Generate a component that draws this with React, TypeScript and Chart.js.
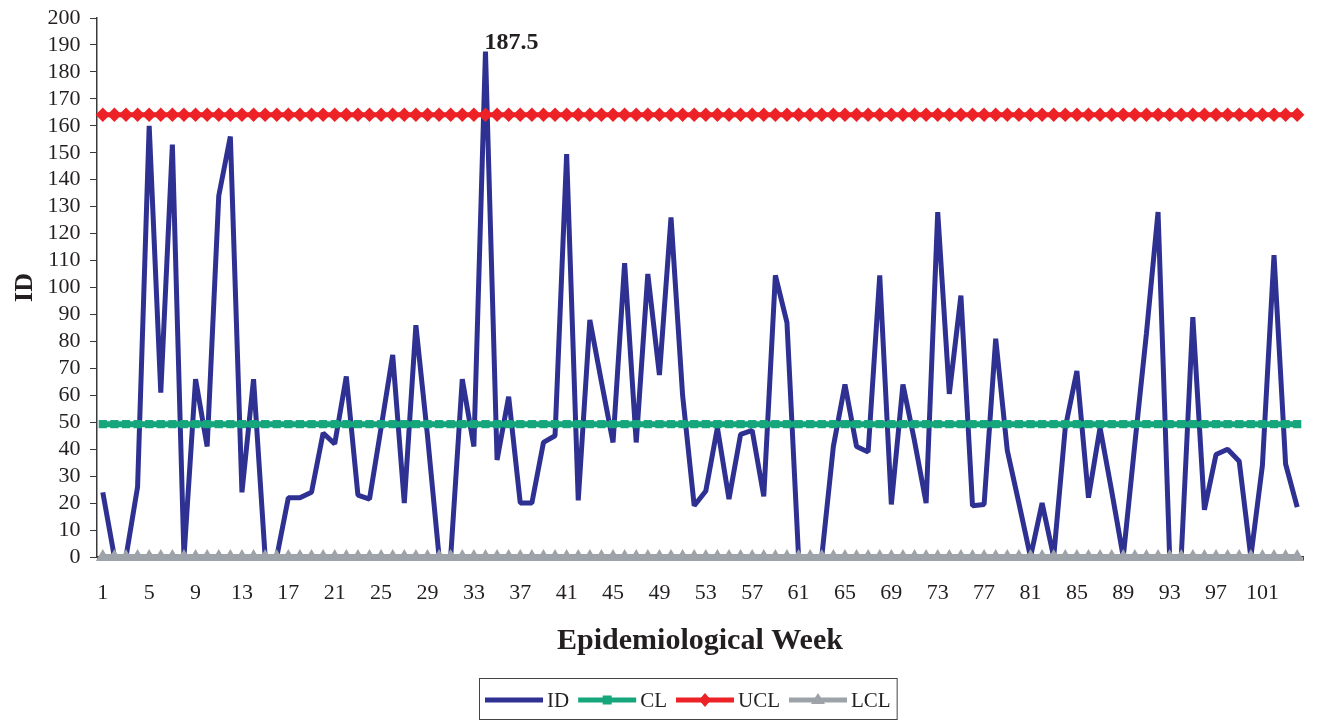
import React, { useEffect, useRef } from 'react';
import { Chart, registerables } from 'chart.js';

Chart.register(...registerables);

// ---------- data ----------
const weeks = [
  1, 2, 3, 4, 5, 6, 7, 8, 9, 10, 11, 12, 13, 14, 15, 16, 17, 18, 19, 20,
  21, 22, 23, 24, 25, 26, 27, 28, 29, 30, 31, 32, 33, 34, 35, 36, 37, 38, 39, 40,
  41, 42, 43, 44, 45, 46, 47, 48, 49, 50, 51, 52, 53, 54, 55, 56, 57, 58, 59, 60,
  61, 62, 63, 64, 65, 66, 67, 68, 69, 70, 71, 72, 73, 74, 75, 76, 77, 78, 79, 80,
  81, 82, 83, 84, 85, 86, 87, 88, 89, 90, 91, 92, 93, 94, 95, 96, 97, 98, 99, 100,
  101, 102, 103, 104,
];

const idValues = [
  24, 0, 0, 26, 160, 61, 153, 0, 66, 41,
  134, 156, 24, 66, 0, 0, 22, 22, 24, 46,
  42, 67, 23, 21.5, 48, 75, 20, 86, 45, 0,
  0, 66, 41, 187.5, 36, 59.5, 20, 20, 42.5, 45,
  149.5, 21, 88, 65, 42.5, 109, 42.5, 105, 67.5, 126,
  60, 19, 24.5, 48, 21.5, 45.5, 47, 22.5, 104.5, 87,
  0, 0, 0, 41, 64, 41, 39, 104.5, 19.5, 64,
  43, 20, 128, 60.5, 97, 19, 19.5, 81, 39.5, 20,
  0, 20, 0, 48, 69, 22, 48, 24.5, 0, 42,
  83, 128, 0, 0, 89, 17.5, 38, 40, 35.5, 0,
  34, 112, 34.5, 18.5,
];

const clLevel = 49.3;
const uclLevel = 164.1;
const lclLevel = 0;

const clValues = weeks.map(() => clLevel);
const uclValues = weeks.map(() => uclLevel);
const lclValues = weeks.map(() => lclLevel);

const xTickLabels = [1, 5, 9, 13, 17, 21, 25, 29, 33, 37, 41, 45, 49, 53, 57, 61, 65, 69, 73, 77, 81, 85, 89, 93, 97, 101];
const yMin = 0;
const yMax = 200;
const yStep = 10;
const peakLabel = '187.5';
const seriesNames = ['ID', 'CL', 'UCL', 'LCL'];

// ---------- styles ----------
const SERIF = "'Liberation Serif', 'Times New Roman', Times, serif";
const TEXT = '#231F20';
const AXIS = '#3a3a3a';
const BLUE = '#2E3192';
const GREEN = '#16A67C';
const RED = '#EC2227';
const GRAY = '#9DA3A9';

type Marker = 'none' | 'rect' | 'rectRot' | 'triangle';

function drawMarker(ctx: CanvasRenderingContext2D, kind: Marker, x: number, y: number, color: string) {
  ctx.fillStyle = color;
  ctx.beginPath();
  if (kind === 'rect') {
    ctx.rect(x - 4.5, y - 4.5, 9, 9);
  } else if (kind === 'rectRot') {
    ctx.moveTo(x - 6, y);
    ctx.lineTo(x, y - 7);
    ctx.lineTo(x + 6, y);
    ctx.lineTo(x, y + 7);
    ctx.closePath();
  } else if (kind === 'triangle') {
    ctx.moveTo(x, y - 7);
    ctx.lineTo(x + 7, y + 4);
    ctx.lineTo(x - 7, y + 4);
    ctx.closePath();
  } else {
    return;
  }
  ctx.fill();
}

const boxLegendPlugin = {
  id: 'boxLegend',
  afterDraw(chart: any) {
    const ctx: CanvasRenderingContext2D = chart.ctx;
    const markers: Marker[] = ['none', 'rect', 'rectRot', 'triangle'];
    ctx.save();
    ctx.font = `21px ${SERIF}`;
    ctx.textBaseline = 'middle';
    ctx.textAlign = 'left';
    const boxLeft = 471;
    const boxTop = 670;
    const boxH = 41;
    const cy = boxTop + 22;
    let x = boxLeft + 6;
    chart.data.datasets.forEach((ds: any, i: number) => {
      const color = ds.borderColor as string;
      ctx.strokeStyle = color;
      ctx.lineWidth = 5;
      ctx.beginPath();
      ctx.moveTo(x, cy);
      ctx.lineTo(x + 58, cy);
      ctx.stroke();
      drawMarker(ctx, markers[i], x + 29, cy, color);
      ctx.fillStyle = TEXT;
      const label = ds.label as string;
      ctx.fillText(label, x + 62, cy + 1);
      x += 62 + ctx.measureText(label).width + 9;
    });
    const boxRight = x - 9 + 6;
    ctx.strokeStyle = '#444';
    ctx.lineWidth = 1;
    ctx.strokeRect(boxLeft + 0.5, boxTop + 0.5, boxRight - boxLeft, boxH);
    ctx.restore();
  },
};

const peakLabelPlugin = {
  id: 'peakLabel',
  afterDatasetsDraw(chart: any) {
    const values = chart.data.datasets[0].data as number[];
    let idx = 0;
    values.forEach((v, i) => {
      if (v > values[idx]) idx = i;
    });
    const pt = chart.getDatasetMeta(0).data[idx];
    const ctx: CanvasRenderingContext2D = chart.ctx;
    ctx.save();
    ctx.font = `bold 24px ${SERIF}`;
    ctx.fillStyle = TEXT;
    ctx.textAlign = 'left';
    ctx.textBaseline = 'alphabetic';
    ctx.fillText(peakLabel, pt.x - 1, pt.y - 3);
    ctx.restore();
  },
};

export default function App() {
  const canvasRef = useRef<HTMLCanvasElement>(null);

  useEffect(() => {
    if (!canvasRef.current) return;
    const chart = new Chart(canvasRef.current, {
      type: 'line',
      data: {
        labels: weeks.map(String),
        datasets: [
          {
            label: seriesNames[0],
            data: idValues,
            borderColor: BLUE,
            backgroundColor: BLUE,
            borderWidth: 5,
            borderJoinStyle: 'bevel',
            pointRadius: 0,
            pointHoverRadius: 0,
            tension: 0,
            order: 1,
            clip: false,
          },
          {
            label: seriesNames[1],
            data: clValues,
            borderColor: GREEN,
            backgroundColor: GREEN,
            borderWidth: 6,
            pointStyle: 'rect',
            pointRadius: 5.8,
            pointBorderWidth: 0,
            pointBackgroundColor: GREEN,
            order: 0,
            clip: false,
          },
          {
            label: seriesNames[2],
            data: uclValues,
            borderColor: RED,
            backgroundColor: RED,
            borderWidth: 5,
            pointStyle: 'rectRot',
            pointRadius: 7.2,
            pointBorderWidth: 0,
            pointBackgroundColor: RED,
            order: 0,
            clip: false,
          },
          {
            label: seriesNames[3],
            data: lclValues,
            borderColor: GRAY,
            backgroundColor: GRAY,
            borderWidth: 6,
            pointStyle: 'triangle',
            pointRadius: 8,
            pointBorderWidth: 0,
            pointBackgroundColor: GRAY,
            order: 0,
            clip: false,
          },
        ],
      },
      options: {
        animation: false,
        responsive: true,
        maintainAspectRatio: false,
        events: [],
        layout: { padding: { top: 10, right: 0, bottom: 52, left: 0 } },
        plugins: {
          legend: { display: false },
          tooltip: { enabled: false },
        },
        scales: {
          x: {
            type: 'category',
            offset: true,
            grid: {
              offset: true,
              drawOnChartArea: false,
              drawTicks: true,
              tickLength: 4,
              color: AXIS,
              lineWidth: 1,
            },
            border: { display: true, color: AXIS, width: 1.5 },
            ticks: {
              autoSkip: false,
              maxRotation: 0,
              minRotation: 0,
              padding: 3,
              color: TEXT,
              font: { family: SERIF, size: 22, lineHeight: 2.7 },
              callback: (_v: any, index: number) => {
                const w = weeks[index];
                return xTickLabels.includes(w) ? String(w) : '';
              },
            },
            title: {
              display: true,
              text: 'Epidemiological Week',
              color: TEXT,
              font: { family: SERIF, size: 30, weight: 'bold', lineHeight: 1 },
              padding: { top: 0, bottom: 12 },
            },
            afterFit: (scale: any) => {
              scale.height = 111;
            },
          },
          y: {
            min: yMin,
            max: yMax,
            grid: {
              drawOnChartArea: false,
              drawTicks: true,
              tickLength: 7,
              color: AXIS,
              lineWidth: 1,
            },
            border: { display: true, color: AXIS, width: 1.5 },
            ticks: {
              stepSize: yStep,
              autoSkip: false,
              padding: 9.5,
              color: TEXT,
              font: { family: SERIF, size: 22, lineHeight: 0.02 },
            },
            title: {
              display: true,
              text: 'ID',
              color: TEXT,
              font: { family: SERIF, size: 26, weight: 'bold', lineHeight: 1 },
              padding: { top: 4, bottom: 0 },
            },
            afterFit: (scale: any) => {
              scale.width = 89;
            },
          },
        },
      },
      plugins: [peakLabelPlugin, boxLegendPlugin],
    } as any);
    return () => chart.destroy();
  }, []);

  return (
    <div style={{ position: 'relative', width: 1303, height: 712 }}>
      <canvas ref={canvasRef} />
    </div>
  );
}
